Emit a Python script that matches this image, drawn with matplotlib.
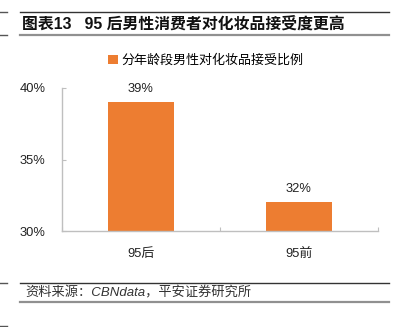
import matplotlib.pyplot as plt
from matplotlib.lines import Line2D
from matplotlib.patches import Patch

# Data
categories = ["95后", "95前"]
values = [39, 32]
value_labels = ["39%", "32%"]
y_ticks = [30, 35, 40]
y_tick_labels = ["30%", "35%", "40%"]

TITLE = "图表13   95 后男性消费者对化妆品接受度更高"
LEGEND_LABEL = "分年龄段男性对化妆品接受比例"
SOURCE = "资料来源：CBNdata，平安证券研究所"

BAR_COLOR = "#ED7D31"
AXIS_COLOR = "#BFBFBF"

plt.rcParams["font.family"] = ["Liberation Sans", "Noto Sans CJK SC", "DejaVu Sans"]

W, H = 399, 327
fig = plt.figure(figsize=(W / 100, H / 100), dpi=100)


def fx(px):
    return px / W


def fy(py):
    return 1 - py / H


# Frame lines (header and footer)
for y, color, lw in [(12.3, "#333333", 1.0), (34.5, "#909090", 1.6),
                     (283.3, "#333333", 1.0), (302.3, "#909090", 1.6)]:
    fig.add_artist(Line2D([fx(20), fx(389)], [fy(y), fy(y)], color=color, lw=lw))
for y in [12.3, 34.5, 283.3, 326]:
    fig.add_artist(Line2D([fx(0), fx(7)], [fy(y), fy(y)], color="#555555", lw=1.0))

fig.text(fx(22), fy(23.5), TITLE, fontsize=11.4, fontweight="bold",
         color="#111111", va="center", ha="left")
fig.text(fx(25), fy(293), SOURCE, fontsize=9.5, fontstyle="italic",
         color="#333333", va="center", ha="left")

# Axes
ax = fig.add_axes([fx(62), fy(231), fx(378) - fx(62), fy(88) - fy(231)])
x = range(len(categories))
ax.bar(x, values, width=0.42, color=BAR_COLOR, zorder=2)
for xi, v, lab in zip(x, values, value_labels):
    ax.text(xi, v + 0.5, lab, ha="center", va="bottom", fontsize=9.3, color="#222222")

ax.set_xlim(-0.5, 1.5)
ax.set_ylim(30, 40)
ax.set_yticks(y_ticks)
ax.set_yticklabels(y_tick_labels, fontsize=9.3, color="#222222")
ax.set_xticks([-0.5, 0.5, 1.5], minor=False)
ax.set_xticklabels([])
ax.set_xticks(list(x), minor=True)
ax.set_xticklabels(categories, minor=True, fontsize=9.3, color="#222222")
ax.tick_params(axis="x", which="minor", length=0, pad=12)
ax.tick_params(axis="x", which="major", direction="in", length=3, color=AXIS_COLOR)
ax.tick_params(axis="y", direction="in", length=3, color=AXIS_COLOR, pad=12)

for side in ["top", "right"]:
    ax.spines[side].set_visible(False)
for side in ["left", "bottom"]:
    ax.spines[side].set_color(AXIS_COLOR)
    ax.spines[side].set_linewidth(1.0)

handle = Patch(facecolor=BAR_COLOR, edgecolor="none")
fig.legend([handle], [LEGEND_LABEL], loc="center", bbox_to_anchor=(fx(206), fy(61)),
           frameon=False, fontsize=9.4, handlelength=0.7, handleheight=0.7,
           handletextpad=0.3, borderpad=0)

fig.savefig("out.png", dpi=100)
